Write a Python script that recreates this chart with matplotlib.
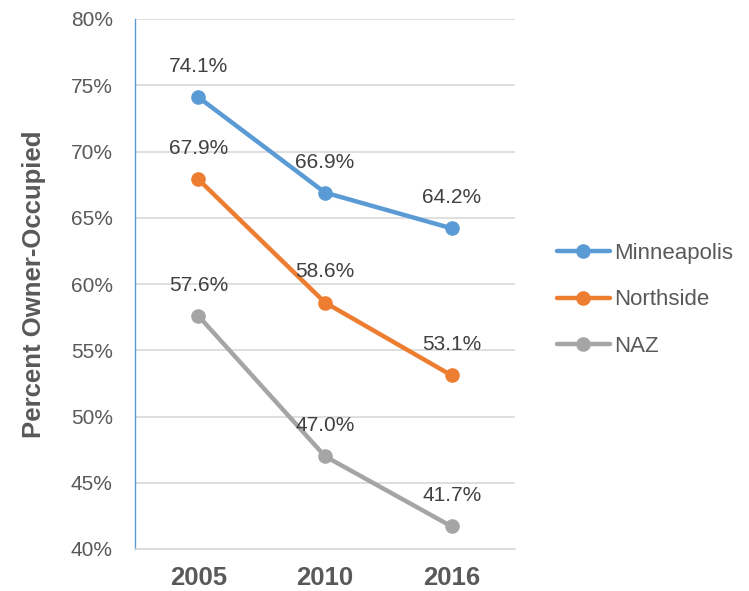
import matplotlib.pyplot as plt
import numpy as np

plt.rcParams['font.family'] = ['Liberation Sans', 'DejaVu Sans']

years = ['2005', '2010', '2016']
minneapolis = [74.1, 66.9, 64.2]
northside = [67.9, 58.6, 53.1]
naz = [57.6, 47.0, 41.7]

series = [('Minneapolis', minneapolis, '#5B9BD5'),
          ('Northside', northside, '#ED7D31'),
          ('NAZ', naz, '#A5A5A5')]

fig = plt.figure(figsize=(7.49, 5.91), dpi=100)
ax = fig.add_axes([135/749, 42/591, 380/749, 530/591])

x = np.arange(len(years))
for name, vals, col in series:
    ax.plot(x, vals, color=col, lw=3.2, marker='o', ms=9.5, label=name,
            solid_capstyle='round')
    for xi, v in zip(x, vals):
        ax.annotate('%.1f%%' % v, (xi, v), xytext=(0, 22), textcoords='offset points',
                    ha='center', va='center', fontsize=15, color='#404040')

ax.set_xlim(-0.5, 2.5)
ax.set_ylim(40, 80)
ax.set_yticks(np.arange(40, 81, 5))
ax.set_yticklabels(['%d%%' % t for t in range(40, 81, 5)], fontsize=15, color='#595959')
ax.set_xticks(x)
ax.set_xticklabels(years, fontsize=18.5, fontweight='bold', color='#595959')
ax.tick_params(length=0)
ax.tick_params(axis='x', pad=12)
ax.tick_params(axis='y', pad=16)
ax.grid(axis='y', color='#D9D9D9', lw=1.2)
ax.set_axisbelow(True)
for s in ['top', 'right']:
    ax.spines[s].set_visible(False)
ax.spines['bottom'].set_color('#D9D9D9')
ax.spines['bottom'].set_linewidth(1.2)
ax.spines['left'].set_color('#5B9BD5')
ax.spines['left'].set_linewidth(1)
ax.set_ylabel('Percent Owner-Occupied', fontsize=18.5, fontweight='bold', color='#595959')
ax.yaxis.set_label_coords(-0.235, 0.5)

leg = ax.legend(loc='center left', bbox_to_anchor=(1.057, 0.47), frameon=False,
                fontsize=16, labelcolor='#595959', handlelength=2.4,
                handletextpad=0.2, labelspacing=1.15)

fig.savefig('out.png', dpi=100)
